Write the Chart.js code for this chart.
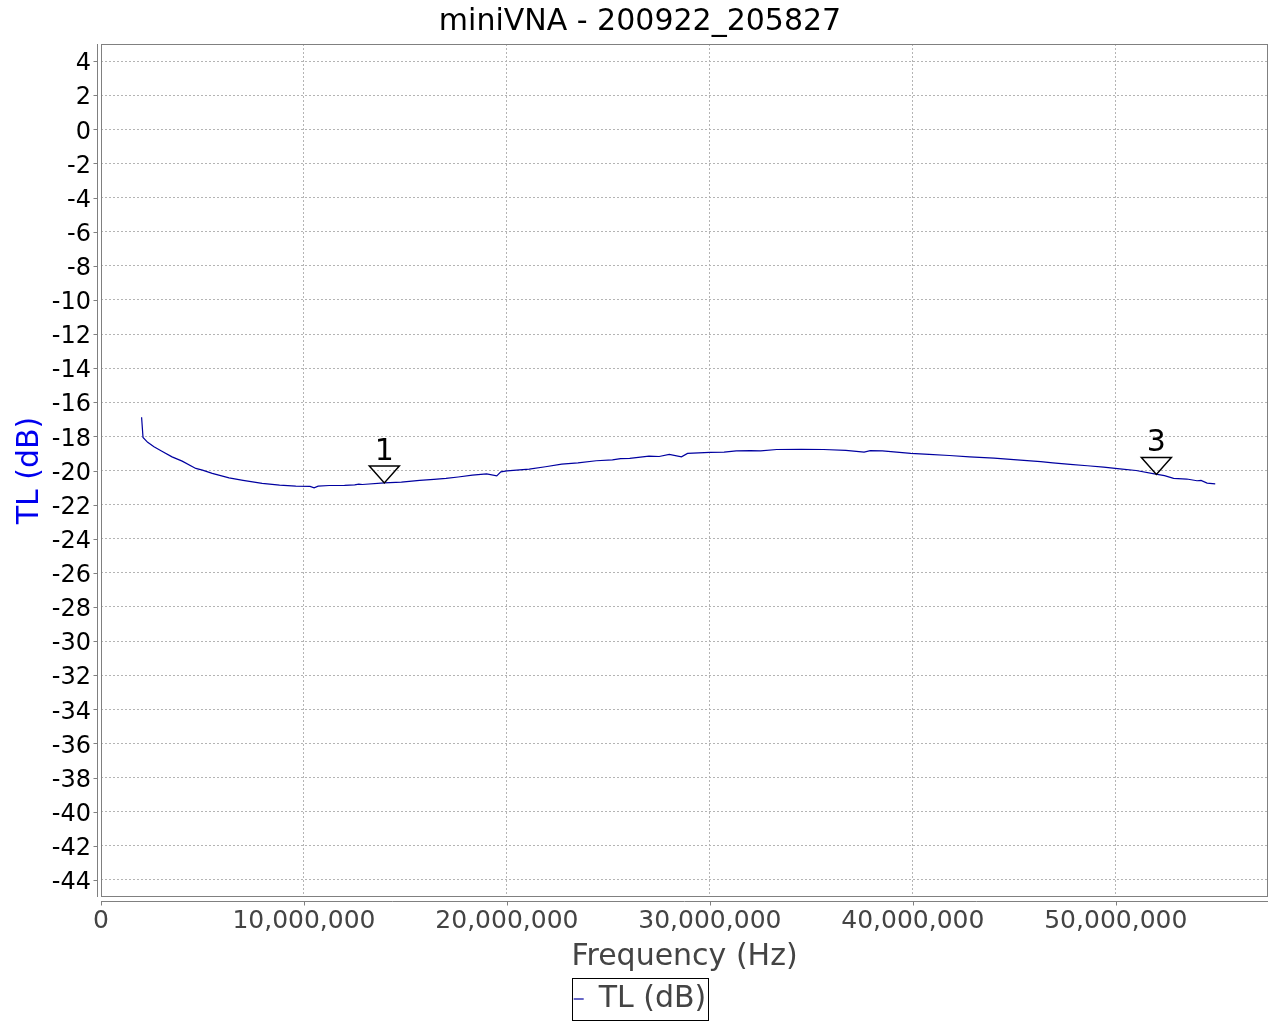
<!DOCTYPE html>
<html>
<head>
<meta charset="utf-8">
<title>miniVNA - 200922_205827</title>
<script src="https://cdn.jsdelivr.net/npm/chart.js@4.4.0/dist/chart.umd.min.js"></script>
<style>
  html, body { margin: 0; padding: 0; background: #fff; }
  #box { width: 1280px; height: 1024px; }
</style>
</head>
<body>
<div id="box"><canvas id="vnaChart" width="1280" height="1024"></canvas></div>
<script>
// frequencies in MHz
const freqMHz = [
  2.00, 2.07, 2.3, 2.61, 3.0, 3.5, 4.0, 4.67, 5.0, 5.48,
  6.31, 7.0, 7.94, 8.8, 9.6, 10.3, 10.5, 10.7, 11.25, 12.0,
  12.5, 12.7, 12.88, 13.96, 14.8, 15.7, 16.4, 17.0, 17.6, 18.3,
  19.0, 19.5, 19.7, 20.0, 21.1, 21.9, 22.7, 23.5, 24.4, 25.2,
  25.6, 26.05, 27.0, 27.5, 28.0, 28.6, 28.9, 30.0, 30.7, 31.3,
  32.0, 32.5, 33.3, 34.5, 35.6, 36.7, 37.6, 37.9, 38.5, 39.2,
  39.9, 40.8, 41.8, 42.8, 44.0, 45.3, 46.3, 46.9, 47.75, 48.6,
  49.4, 50.2, 51.0, 51.9, 52.4, 52.85, 53.5, 54.0, 54.2, 54.5,
  54.9
];
// TL (dB)
const tlValues = [
  -16.88, -18.06, -18.35, -18.61, -18.87, -19.20, -19.45, -19.88, -19.98, -20.17,
  -20.43, -20.58, -20.76, -20.86, -20.92, -20.93, -21.02, -20.92, -20.88, -20.87,
  -20.84, -20.80, -20.82, -20.73, -20.68, -20.58, -20.52, -20.46, -20.38, -20.27,
  -20.20, -20.32, -20.08, -20.02, -19.92, -19.78, -19.63, -19.55, -19.43, -19.38,
  -19.30, -19.29, -19.16, -19.18, -19.06, -19.20, -19.00, -18.94, -18.92, -18.85,
  -18.83, -18.85, -18.77, -18.76, -18.77, -18.82, -18.92, -18.84, -18.85, -18.92,
  -19.00, -19.06, -19.12, -19.20, -19.28, -19.39, -19.48, -19.55, -19.64, -19.72,
  -19.80, -19.91, -20.00, -20.20, -20.30, -20.46, -20.50, -20.60, -20.58, -20.74,
  -20.78
];

// markers
const markerNames = ["1", "3"];
const markerFreqMHz = [13.96, 52.0];
const markerTL = [-20.73, -20.23];

// tick values
const xTicks = [0, 10000000, 20000000, 30000000, 40000000, 50000000];
const yTicks = [];
for (let v = -44; v <= 4; v += 2) yTicks.push(v);

const punkte = freqMHz.map((f, i) => ({ x: f * 1e6, y: tlValues[i] }));

const fonte = "'DejaVu Sans', sans-serif";

// frame, offset axes, markers, legend border
const extras = {
  id: "extras",
  afterDraw(chart) {
    const ctx = chart.ctx;
    const a = chart.chartArea;
    const xs = chart.scales.x;
    const ys = chart.scales.y;
    ctx.save();
    ctx.strokeStyle = "#808080";
    ctx.lineWidth = 1;
    ctx.strokeRect(Math.round(a.left) + 0.5, Math.round(a.top) + 0.5,
      Math.round(a.right - a.left) - 1, Math.round(a.bottom - a.top) - 1);

    // y axis line and ticks
    const ax = Math.round(a.left) - 3.5;
    ctx.beginPath();
    ctx.moveTo(ax, a.top);
    ctx.lineTo(ax, a.bottom);
    yTicks.forEach(v => {
      const p = Math.round(ys.getPixelForValue(v)) + 0.5;
      ctx.moveTo(ax - 4, p);
      ctx.lineTo(ax, p);
    });
    // x axis line and ticks
    const ay = Math.round(a.bottom) + 4.5;
    ctx.moveTo(a.left, ay);
    ctx.lineTo(a.right, ay);
    xTicks.forEach(v => {
      const p = Math.round(xs.getPixelForValue(v)) + 0.5;
      ctx.moveTo(p, ay);
      ctx.lineTo(p, ay + 4);
    });
    ctx.stroke();

    // markers
    ctx.strokeStyle = "#000";
    ctx.lineWidth = 1.5;
    ctx.fillStyle = "#000";
    ctx.font = "30px " + fonte;
    ctx.textAlign = "center";
    ctx.textBaseline = "alphabetic";
    markerNames.forEach((n, i) => {
      const px = xs.getPixelForValue(markerFreqMHz[i] * 1e6);
      const py = ys.getPixelForValue(markerTL[i]);
      ctx.beginPath();
      ctx.moveTo(px - 15, py - 17);
      ctx.lineTo(px + 15, py - 17);
      ctx.lineTo(px, py);
      ctx.closePath();
      ctx.stroke();
      ctx.fillText(n, px, py - 23);
    });

    // legend border
    const hb = chart.legend.legendHitBoxes[0];
    if (hb) {
      ctx.strokeStyle = "#000";
      ctx.lineWidth = 1;
      const l = Math.round(hb.left - 1.5) + 0.5;
      const t = Math.round(hb.top - 6) + 0.5;
      ctx.strokeRect(l, t, Math.round(hb.width + 3), 42);
    }
    ctx.restore();
  }
};

const graficoCanvas = document.getElementById("vnaChart").getContext("2d");

const config = {
  type: "line",
  data: {
    datasets: [
      {
        label: "TL (dB)",
        data: punkte,
        borderColor: "#0000a0",
        backgroundColor: "#0000a0",
        borderWidth: 1.2,
        pointRadius: 0,
        tension: 0,
        fill: false,
      },
    ],
  },
  options: {
    responsive: false,
    animation: false,
    layout: { padding: 0 },
    plugins: {
      title: {
        display: true,
        text: "miniVNA - 200922_205827",
        color: "#000",
        font: { family: fonte, size: 30, weight: "normal", lineHeight: 1.2 },
        padding: { top: 4, bottom: 4 },
      },
      legend: {
        position: "bottom",
        labels: {
          color: "#444",
          font: { family: fonte, size: 30 },
          usePointStyle: true,
          pointStyle: "line",
          pointStyleWidth: 10,
          boxHeight: 12,
          padding: 8,
        },
      },
      tooltip: { enabled: false },
    },
    scales: {
      x: {
        type: "linear",
        min: 0,
        max: 57500000,
        afterBuildTicks: (s) => { s.ticks = xTicks.map(v => ({ value: v })); },
        afterFit: (s) => { s.height = 79; },
        grid: { color: "#b4b4b4", drawTicks: false },
        border: { display: false },
        ticks: {
          color: "#444",
          font: { family: fonte, size: 25 },
          padding: 9,
          maxRotation: 0,
          callback: (v) => Number(v).toLocaleString("en-US"),
        },
        title: {
          display: true,
          text: "Frequency (Hz)",
          color: "#444",
          font: { family: fonte, size: 30, lineHeight: 1.1 },
          padding: { top: 0, bottom: 2 },
        },
      },
      y: {
        type: "linear",
        min: -45,
        max: 5,
        afterBuildTicks: (s) => { s.ticks = yTicks.map(v => ({ value: v })); },
        afterFit: (s) => { s.width = 101; },
        grid: { color: "#b4b4b4", drawTicks: false },
        border: { display: false },
        ticks: {
          color: "#000",
          font: { family: fonte, size: 24 },
          padding: 10,
          labelOffset: 3,
        },
        title: {
          display: true,
          text: "TL (dB)",
          color: "#0000ee",
          font: { family: fonte, size: 30, lineHeight: 1.2 },
          padding: { top: 12, bottom: 0 },
        },
      },
      // empty strip right of the plot
      rand: {
        type: "linear",
        position: "right",
        afterFit: (s) => { s.width = 12; },
        grid: { display: false, drawTicks: false },
        border: { display: false },
        ticks: { display: false },
      },
    },
  },
  plugins: [extras],
};

// dashed grid lines
config.options.scales.x.grid.borderDash = [2, 2];
config.options.scales.y.grid.borderDash = [2, 2];
config.options.scales.x.border.dash = [2, 2];
config.options.scales.y.border.dash = [2, 2];

const grafico = new Chart(graficoCanvas, config);
</script>
</body>
</html>
